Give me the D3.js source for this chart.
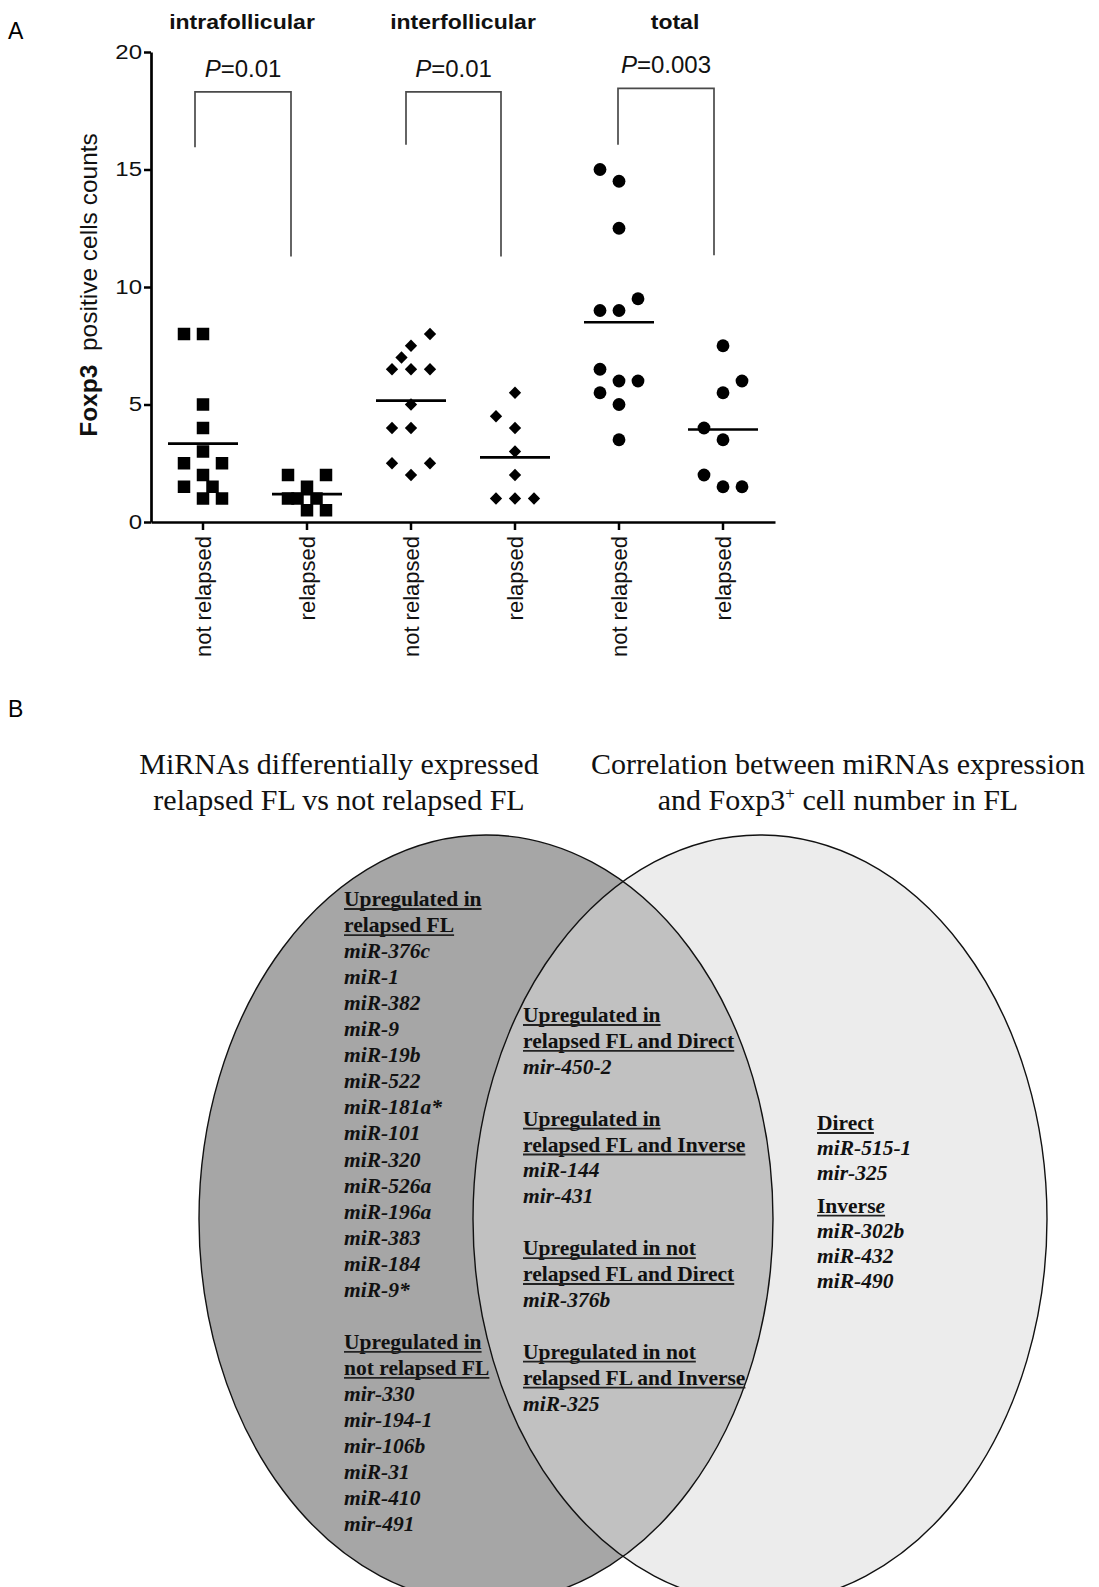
<!DOCTYPE html>
<html><head><meta charset="utf-8">
<script src="https://cdn.jsdelivr.net/npm/d3@7"></script>
<style>html,body{margin:0;padding:0;background:#fff}</style>
</head><body>
<svg id="c" width="1099" height="1587"></svg>
<script>
// ================= DATA =================
const categories = ["not relapsed","relapsed","not relapsed","relapsed","not relapsed","relapsed"];
const groupTitles = ["intrafollicular","interfollicular","total"];
const pValues = ["0.01","0.01","0.003"];
const yTicks = [0,5,10,15,20];
const yLabelBold = "Foxp3";
const yLabelRest = "  positive cells counts";

// values per column, plus the horizontal scatter slot of each point
const intraNotRelapsed      = [8,8,5,4,3,2.5,2.5,2,1.5,1.5,1,1];
const intraNotRelapsedSlot  = [-2,0,0,0,0,-2,2,0,-2,1,0,2];
const intraRelapsed         = [2,2,1.5,1,1,1,0.5,0.5];
const intraRelapsedSlot     = [-2,2,0,-2,-1,1,0,2];
const interNotRelapsed      = [8,7.5,7,6.5,6.5,6.5,5,4,4,2.5,2.5,2];
const interNotRelapsedSlot  = [2,0,-1,-2,0,2,0,-2,0,-2,2,0];
const interRelapsed         = [5.5,4.5,4,3,2,1,1,1];
const interRelapsedSlot     = [0,-2,0,0,0,-2,0,2];
const totalNotRelapsed      = [15,14.5,12.5,9.5,9,9,6.5,6,6,5.5,5,3.5];
const totalNotRelapsedSlot  = [-2,0,0,2,-2,0,-2,0,2,-2,0,0];
const totalRelapsed         = [7.5,6,5.5,4,3.5,2,1.5,1.5];
const totalRelapsedSlot     = [0,2,0,-2,0,-2,0,2];

// significance brackets: columns joined, bracket top, left leg end, right leg end (axis units)
const bracketFrom  = [0,2,4];
const bracketTo    = [1,3,5];
const bracketTop   = [18.3,18.3,18.45];
const bracketLeftEnd  = [15.95,16.05,16.05];
const bracketRightEnd = [11.3,11.3,11.35];

// Venn panel texts
const vennTitleLeft  = ["MiRNAs differentially expressed","relapsed FL vs not relapsed FL"];
const vennTitleRight = ["Correlation between miRNAs expression","and Foxp3|+| cell number in FL"];
// kind: h = underlined header, m = miRNA, "" = blank line
const vennLeft = [
 ["Upregulated in","h"],["relapsed FL","h"],
 ["miR-376c","m"],["miR-1","m"],["miR-382","m"],["miR-9","m"],["miR-19b","m"],["miR-522","m"],
 ["miR-181a*","m"],["miR-101","m"],["miR-320","m"],["miR-526a","m"],["miR-196a","m"],["miR-383","m"],
 ["miR-184","m"],["miR-9*","m"],["",""],
 ["Upregulated in","h"],["not relapsed FL","h"],
 ["mir-330","m"],["mir-194-1","m"],["mir-106b","m"],["miR-31","m"],["miR-410","m"],["mir-491","m"]
];
const vennMiddle = [
 ["Upregulated in","h"],["relapsed FL and Direct","h"],["mir-450-2","m"],["",""],
 ["Upregulated in","h"],["relapsed FL and Inverse","h"],["miR-144","m"],["mir-431","m"],["",""],
 ["Upregulated in not","h"],["relapsed FL and Direct","h"],["miR-376b","m"],["",""],
 ["Upregulated in not","h"],["relapsed FL and Inverse","h"],["miR-325","m"]
];
const vennRight = [
 ["Direct","h"],["miR-515-1","m"],["mir-325","m"],
 ["Invers|e","h"],["miR-302b","m"],["miR-432","m"],["miR-490","m"]
];

// ================= DRAW =================
const svg = d3.select("#c");
const SANS = "'Liberation Sans', Arial, Helvetica, sans-serif";
const SERIF = "'Liberation Serif', 'Times New Roman', serif";
svg.append("rect").attr("width",1099).attr("height",1587).attr("fill","#fff");

function stretch(sel, k){
  sel.each(function(){
    const w = this.getComputedTextLength();
    d3.select(this).attr("textLength", w*k).attr("lengthAdjust","spacingAndGlyphs");
  });
}

// panel letters
svg.append("text").attr("x",8).attr("y",39).attr("font-family",SANS).attr("font-size",23).text("A");
svg.append("text").attr("x",8).attr("y",717).attr("font-family",SANS).attr("font-size",23).text("B");

const x = d3.scaleBand().domain(d3.range(6)).range([151,775]);
const y = d3.scaleLinear().domain([0,20]).range([522,52]);
const cx = i => x(i) + x.bandwidth()/2;
const SLOT = 9.5;

// y axis
const gy = svg.append("g").attr("transform","translate(151,0)")
  .call(d3.axisLeft(y).tickValues(yTicks).tickSize(7).tickSizeOuter(0).tickPadding(2));
gy.select(".domain").attr("stroke","#000").attr("stroke-width",2.7);
gy.selectAll(".tick line").attr("stroke","#000").attr("stroke-width",2.5);
gy.selectAll(".tick text").attr("font-family",SANS).attr("font-size",20).attr("fill","#111");
stretch(gy.selectAll(".tick text"),1.2);

// x axis
const gx = svg.append("g").attr("transform","translate(0,522)")
  .call(d3.axisBottom(x).tickFormat(i=>categories[i]).tickSize(8).tickSizeOuter(0));
gx.select(".domain").attr("stroke","#000").attr("stroke-width",2.7);
gx.selectAll(".tick line").attr("stroke","#000").attr("stroke-width",2.5);
gx.selectAll(".tick text").attr("font-family",SANS).attr("font-size",22).attr("fill","#111")
  .attr("transform","rotate(-90)").attr("text-anchor","end").attr("x",-14).attr("y",0).attr("dy","0.36em");

// y label
const yl = svg.append("text").attr("transform","translate(97,285) rotate(-90)")
  .attr("text-anchor","middle").attr("font-family",SANS).attr("font-size",24.5).attr("fill","#111");
yl.append("tspan").attr("font-weight","bold").text(yLabelBold);
yl.append("tspan").style("white-space","pre").text(yLabelRest);

// group titles
const titleOffset = [-13,0,4];
groupTitles.forEach((t,i)=>{
  const mx = (cx(2*i)+cx(2*i+1))/2 + titleOffset[i];
  const tt = svg.append("text").attr("x",mx).attr("y",29).attr("text-anchor","middle")
    .attr("font-family",SANS).attr("font-weight","bold").attr("font-size",20).attr("fill","#111").text(t);
  stretch(tt,1.15);
});

// brackets
const legDx = [[-8,-16],[-5,-14],[-1,-9]];
bracketFrom.forEach((a,i)=>{
  const xl = cx(a)+legDx[i][0], xr = cx(bracketTo[i])+legDx[i][1];
  svg.append("path").attr("fill","none").attr("stroke","#4a4a4a").attr("stroke-width",1.7)
    .attr("d",`M${xl},${y(bracketLeftEnd[i])}V${y(bracketTop[i])}H${xr}V${y(bracketRightEnd[i])}`);
  const pt = svg.append("text").attr("x",(xl+xr)/2).attr("y",y(bracketTop[i])-15).attr("text-anchor","middle")
    .attr("font-family",SANS).attr("font-size",24).attr("fill","#111");
  pt.append("tspan").attr("font-style","italic").text("P");
  pt.append("tspan").text("="+pValues[i]);
});

// points
const series = [
  [intraNotRelapsed,intraNotRelapsedSlot,"square"],
  [intraRelapsed,intraRelapsedSlot,"square"],
  [interNotRelapsed,interNotRelapsedSlot,"diamond"],
  [interRelapsed,interRelapsedSlot,"diamond"],
  [totalNotRelapsed,totalNotRelapsedSlot,"circle"],
  [totalRelapsed,totalRelapsedSlot,"circle"]
];
const shapes = {
  square: d3.symbol().type(d3.symbolSquare).size(12.5*12.5),
  diamond: d3.symbol().type(d3.symbolSquare).size(8.7*8.7),
  circle: d3.symbol().type(d3.symbolCircle).size(Math.PI*6.4*6.4)
};
series.forEach(([vals,slots,shape],ci)=>{
  svg.append("g").selectAll("path").data(vals).join("path")
    .attr("d",shapes[shape]())
    .attr("transform",(v,j)=>`translate(${cx(ci)+slots[j]*SLOT},${y(v)})${shape==="diamond"?" rotate(45)":""}`)
    .attr("fill","#000");
  const m = d3.mean(vals);
  svg.append("line").attr("x1",cx(ci)-35).attr("x2",cx(ci)+35).attr("y1",y(m)).attr("y2",y(m))
    .attr("stroke","#000").attr("stroke-width",2.6);
});

// ================= VENN =================
const EL = {cx:486, cy:1219, rx:287, ry:384};
const ER = {cx:760, cy:1219, rx:287, ry:384};
svg.append("defs").append("clipPath").attr("id","clipL")
  .append("ellipse").attr("cx",EL.cx).attr("cy",EL.cy).attr("rx",EL.rx).attr("ry",EL.ry);
const ell = (e)=>svg.append("ellipse").attr("cx",e.cx).attr("cy",e.cy).attr("rx",e.rx).attr("ry",e.ry);
ell(EL).attr("fill","#a6a6a6");
ell(ER).attr("fill","#ececec");
ell(ER).attr("fill","#c1c1c1").attr("clip-path","url(#clipL)");
ell(EL).attr("fill","none").attr("stroke","#111").attr("stroke-width",1.4);
ell(ER).attr("fill","none").attr("stroke","#111").attr("stroke-width",1.4);

// titles
function titleLines(lines, cxp){
  lines.forEach((ln,i)=>{
    const t = svg.append("text").attr("x",cxp).attr("y",774+i*36).attr("text-anchor","middle")
      .attr("font-family",SERIF).attr("font-size",30).attr("fill","#111");
    const parts = ln.split("|");
    if(parts.length===1){ t.text(ln); }
    else {
      t.append("tspan").text(parts[0]);
      t.append("tspan").attr("dy",-11).attr("font-size",17).text(parts[1]);
      t.append("tspan").attr("dy",11).text(parts[2]);
    }
  });
}
titleLines(vennTitleLeft,339);
titleLines(vennTitleRight,838);

function column(items, x0, y0, step, extra){
  let yy = y0;
  items.forEach((it,i)=>{
    if(extra && extra[i]) yy += extra[i];
    const [txt,kind] = it;
    if(kind){
      const t = svg.append("text").attr("x",x0).attr("y",yy).attr("font-family",SERIF)
        .attr("font-size",21.5).attr("font-weight","bold").attr("fill","#111");
      if(kind==="m"){ t.attr("font-style","italic").text(txt); }
      else {
        const parts = txt.split("|");
        t.append("tspan").text(parts[0]);
        if(parts[1]) t.append("tspan").attr("font-style","italic").text(parts[1]);
        const w = t.node().getComputedTextLength();
        svg.append("line").attr("x1",x0).attr("x2",x0+w).attr("y1",yy+3).attr("y2",yy+3)
          .attr("stroke","#222").attr("stroke-width",1.8);
      }
    }
    yy += step;
  });
}
column(vennLeft, 344, 906, 26.05);
column(vennMiddle, 523, 1022, 25.9);
column(vennRight, 817, 1130, 25.2, {3:7});
</script>
</body></html>
